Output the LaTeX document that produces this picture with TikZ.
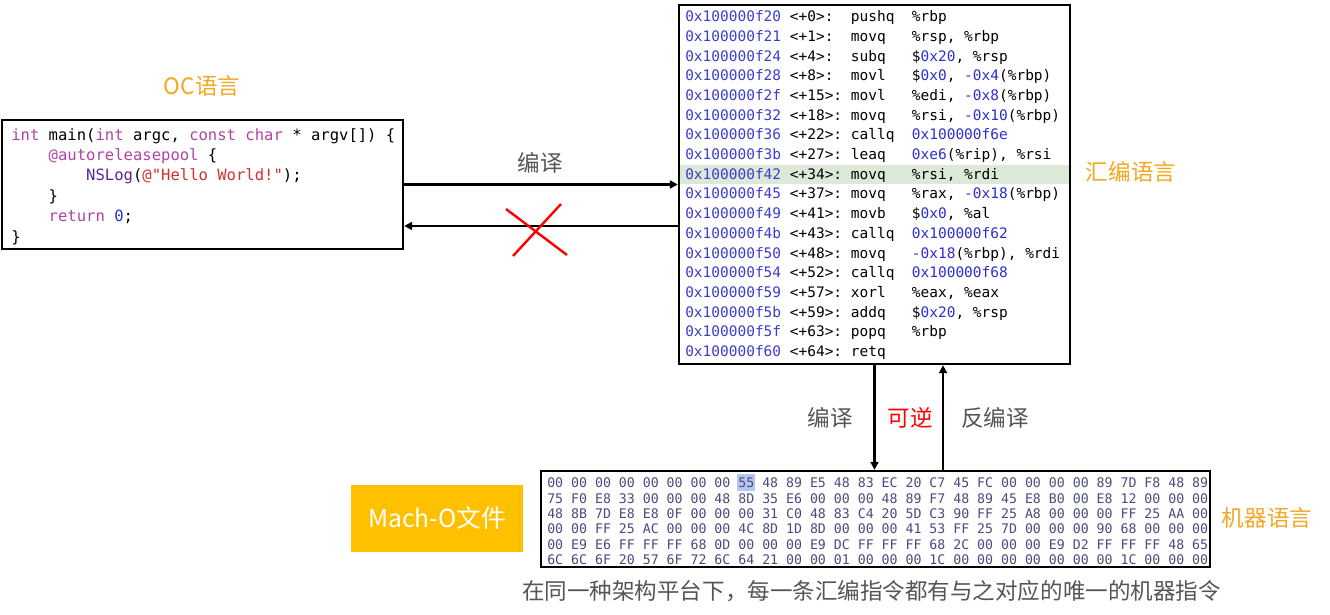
\documentclass[tikz,border=0pt]{standalone}
\usepackage{fontspec}
\usetikzlibrary{arrows.meta}
\newfontfamily\cjk{Noto Sans CJK SC}
\newfontfamily\mono{DejaVu Sans Mono}[Ligatures=NoCommon]
\definecolor{kwc}{HTML}{B243A4}
\definecolor{fnc}{HTML}{5C2699}
\definecolor{strc}{HTML}{D0312D}
\definecolor{numc}{HTML}{2E2ED0}
\definecolor{addrc}{HTML}{3C3CCF}
\definecolor{hexc}{HTML}{4A4A80}
\definecolor{orangec}{HTML}{F5A623}
\definecolor{machc}{HTML}{FFC000}
\definecolor{grayc}{HTML}{555555}
\definecolor{rowc}{HTML}{DCE9D9}
\definecolor{selc}{HTML}{B4C6F0}
\newcommand\ckw[1]{\textcolor{kwc}{#1}}
\newcommand\cfn[1]{\textcolor{fnc}{#1}}
\newcommand\cstr[1]{\textcolor{strc}{#1}}
\newcommand\cnum[1]{\textcolor{numc}{#1}}
\newcommand\caddr[1]{\textcolor{addrc}{#1}}
\tikzset{
  box/.style={draw=black, line width=1.8pt, inner sep=0pt, fill=none},
  arr/.style={line width=2pt, -{Triangle[length=6pt,width=6pt]}},
  codeline/.style={anchor=west, inner sep=0pt, text height=0.8em, text depth=0.1em,
    font=\mono\fontsize{11.67pt}{14pt}\selectfont},
  asmline/.style={anchor=west, inner sep=0pt, text height=0.8em, text depth=0.1em,
    font=\mono\fontsize{10.86pt}{13pt}\selectfont},
  hexline/.style={anchor=west, inner sep=0pt, text height=0.8em, text depth=0.1em,
    text=hexc, font=\mono\fontsize{9.92pt}{12pt}\selectfont},
  lbl/.style={inner sep=0pt, font=\cjk\fontsize{16.9pt}{20pt}\selectfont},
  orangelbl/.style={lbl, text=orangec},
  graylbl/.style={lbl, text=grayc},
}
\begin{document}
\begin{tikzpicture}[x=0.75pt, y=-0.75pt]
\useasboundingbox (0,0) rectangle (1330,614);
% background fills
\fill[rowc] (680,165) rectangle (1069,184);
\fill[selc] (737,474) rectangle (755,491);
% boxes
\node[box, minimum width=300.75pt, minimum height=96.75pt] (code) at (202.5,184.5) {};
\node[box, minimum width=293.25pt, minimum height=269.25pt] (asm) at (874.5,184.5) {};
\node[box, minimum width=501.75pt, minimum height=72pt] (hex) at (875.5,519) {};
\node[fill=machc, inner sep=0pt, minimum width=129pt, minimum height=50.25pt,
  text=white, font=\cjk\fontsize{18.5pt}{22pt}\selectfont] (macho) at (437,518.5) {Mach-O文件};
% code text
\node[codeline] (c1) at (11,135.5) {\ckw{int} main(\ckw{int} argc, \ckw{const} \ckw{char} * argv[]) \{};
\node[codeline] (c2) at (11,155.9) {~~~~\ckw{@autoreleasepool} \{};
\node[codeline] (c3) at (11,176.3) {~~~~~~~~\cfn{NSLog}(\cstr{@"Hello World!"});};
\node[codeline] (c4) at (11,196.7) {~~~~\}};
\node[codeline] (c5) at (11,217.1) {~~~~\ckw{return} \cnum{0};};
\node[codeline] (c6) at (11,237.5) {\}};
% asm text
\node[asmline] (a1)  at (685,17.0)  {\caddr{0x100000f20}~<+0>:~~pushq~~\%rbp};
\node[asmline] (a2)  at (685,36.7)  {\caddr{0x100000f21}~<+1>:~~movq~~~\%rsp,~\%rbp};
\node[asmline] (a3)  at (685,56.4)  {\caddr{0x100000f24}~<+4>:~~subq~~~\$\cnum{0x20},~\%rsp};
\node[asmline] (a4)  at (685,76.1)  {\caddr{0x100000f28}~<+8>:~~movl~~~\$\cnum{0x0},~\cnum{-0x4}(\%rbp)};
\node[asmline] (a5)  at (685,95.8)  {\caddr{0x100000f2f}~<+15>:~movl~~~\%edi,~\cnum{-0x8}(\%rbp)};
\node[asmline] (a6)  at (685,115.5) {\caddr{0x100000f32}~<+18>:~movq~~~\%rsi,~\cnum{-0x10}(\%rbp)};
\node[asmline] (a7)  at (685,135.2) {\caddr{0x100000f36}~<+22>:~callq~~\cnum{0x100000f6e}};
\node[asmline] (a8)  at (685,154.9) {\caddr{0x100000f3b}~<+27>:~leaq~~~\cnum{0xe6}(\%rip),~\%rsi};
\node[asmline] (a9)  at (685,174.6) {\caddr{0x100000f42}~<+34>:~movq~~~\%rsi,~\%rdi};
\node[asmline] (a10) at (685,194.3) {\caddr{0x100000f45}~<+37>:~movq~~~\%rax,~\cnum{-0x18}(\%rbp)};
\node[asmline] (a11) at (685,214.0) {\caddr{0x100000f49}~<+41>:~movb~~~\$\cnum{0x0},~\%al};
\node[asmline] (a12) at (685,233.7) {\caddr{0x100000f4b}~<+43>:~callq~~\cnum{0x100000f62}};
\node[asmline] (a13) at (685,253.4) {\caddr{0x100000f50}~<+48>:~movq~~~\cnum{-0x18}(\%rbp),~\%rdi};
\node[asmline] (a14) at (685,273.1) {\caddr{0x100000f54}~<+52>:~callq~~\cnum{0x100000f68}};
\node[asmline] (a15) at (685,292.8) {\caddr{0x100000f59}~<+57>:~xorl~~~\%eax,~\%eax};
\node[asmline] (a16) at (685,312.5) {\caddr{0x100000f5b}~<+59>:~addq~~~\$\cnum{0x20},~\%rsp};
\node[asmline] (a17) at (685,332.2) {\caddr{0x100000f5f}~<+63>:~popq~~~\%rbp};
\node[asmline] (a18) at (685,351.9) {\caddr{0x100000f60}~<+64>:~retq};
% hex text
\node[hexline] (h1) at (547,483.0) {00 00 00 00 00 00 00 00 55 48 89 E5 48 83 EC 20 C7 45 FC 00 00 00 00 89 7D F8 48 89};
\node[hexline] (h2) at (547,498.4) {75 F0 E8 33 00 00 00 48 8D 35 E6 00 00 00 48 89 F7 48 89 45 E8 B0 00 E8 12 00 00 00};
\node[hexline] (h3) at (547,513.8) {48 8B 7D E8 E8 0F 00 00 00 31 C0 48 83 C4 20 5D C3 90 FF 25 A8 00 00 00 FF 25 AA 00};
\node[hexline] (h4) at (547,529.2) {00 00 FF 25 AC 00 00 00 4C 8D 1D 8D 00 00 00 41 53 FF 25 7D 00 00 00 90 68 00 00 00};
\node[hexline] (h5) at (547,544.6) {00 E9 E6 FF FF FF 68 0D 00 00 00 E9 DC FF FF FF 68 2C 00 00 00 E9 D2 FF FF FF 48 65};
\node[hexline] (h6) at (547,560.0) {6C 6C 6F 20 57 6F 72 6C 64 21 00 00 01 00 00 00 1C 00 00 00 00 00 00 00 1C 00 00 00};
% labels
\node[orangelbl] (oc) at (202,86) {OC语言};
\node[orangelbl] (asmlbl) at (1131,172) {汇编语言};
\node[orangelbl] (mlbl) at (1267,518) {机器语言};
\node[graylbl] (compile1) at (540.5,163) {编译};
\node[graylbl] (compile2) at (830,418) {编译};
\node[lbl, text=red] (rev) at (910,418) {可逆};
\node[graylbl] (decomp) at (995,418) {反编译};
\node[graylbl] (caption) at (871.5,591) {在同一种架构平台下，每一条汇编指令都有与之对应的唯一的机器指令};
% connectors
\draw[arr] (code.east) -- (asm.west);
\draw[arr] ([yshift=-31.1pt]asm.west) -- ([yshift=-31.1pt]code.east);
\draw[arr] (asm.south) -- (asm.south |- hex.north);
\draw[arr] ([xshift=51.4pt]asm.south |- hex.north) -- ([xshift=51.4pt]asm.south);
% red cross
\draw[red, line width=1.8pt] (506,209) -- (567,255);
\draw[red, line width=1.8pt] (561,204) -- (513,256);
\end{tikzpicture}
\end{document}
